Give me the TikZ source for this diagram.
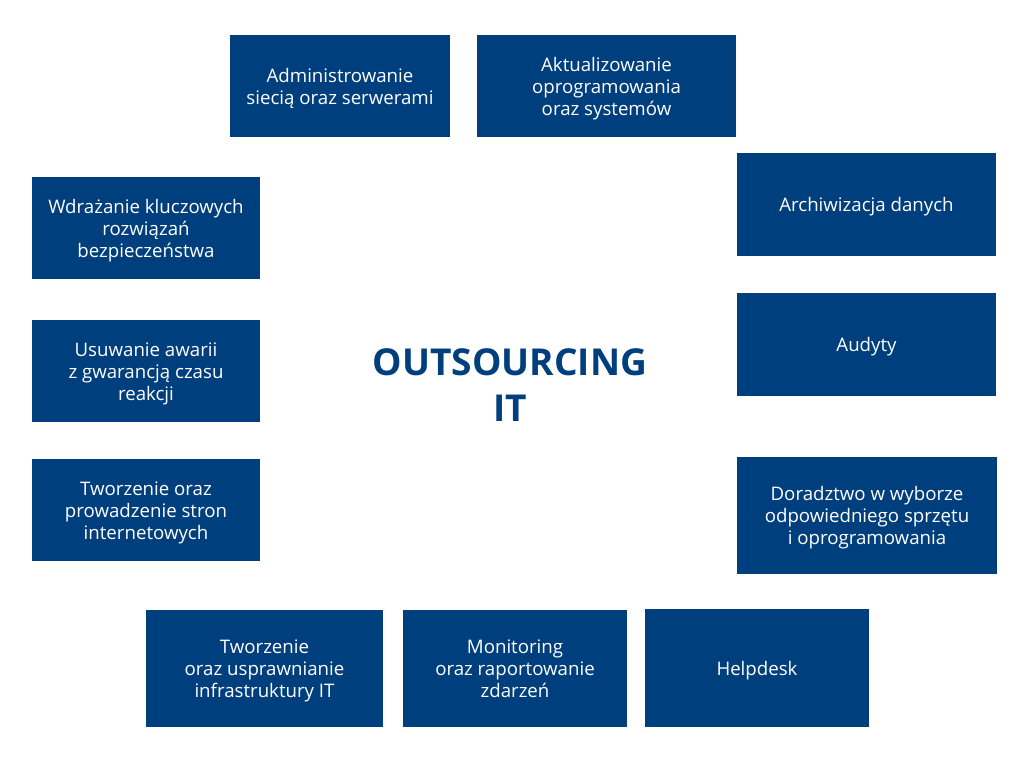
\documentclass[tikz,border=0pt]{standalone}
\usepackage{fontspec}
\setmainfont{Open Sans}
\definecolor{navy}{HTML}{003F7D}
\newcommand{\bxt}[1]{\raisebox{-2.3pt}[\height][\depth]{\begin{tabular}{@{}c@{}}#1\end{tabular}}}
\begin{document}
\begin{tikzpicture}[x=0.75pt,y=-0.75pt,
  box/.style 2 args={fill=navy, text=white, inner sep=0pt,
    minimum width=#1*0.75pt, minimum height=#2*0.75pt,
    font=\fontsize{14pt}{16.5pt}\selectfont},
  title/.style={text=navy, align=center, font=\fontsize{27.8pt}{35pt}\selectfont\bfseries}]
\useasboundingbox[fill=white] (0,0) rectangle (1024,768);
\node[box={220}{102}] (admin) at (340,86) {\bxt{Administrowanie\\siecią oraz serwerami}};
\node[box={259}{102}] (aktual) at (606.5,86) {\bxt{Aktualizowanie\\oprogramowania\\oraz systemów}};
\node[box={259}{103}] (arch) at (866.5,204.5) {\bxt{Archiwizacja danych}};
\node[box={259}{103}] (audyty) at (866.5,344.5) {\bxt{Audyty}};
\node[box={260}{117}] (dorad) at (867,515.5) {\bxt{Doradztwo w wyborze\\odpowiedniego sprzętu\\i oprogramowania}};
\node[box={224}{118}] (help) at (757,668) {\bxt{Helpdesk}};
\node[box={224}{117}] (monit) at (515,668.5) {\bxt{Monitoring\\oraz raportowanie\\zdarzeń}};
\node[box={237}{117}] (infra) at (264.5,668.5) {\bxt{Tworzenie\\oraz usprawnianie\\infrastruktury IT}};
\node[box={228}{102}] (strony) at (146,510) {\bxt{Tworzenie oraz\\prowadzenie stron\\internetowych}};
\node[box={228}{102}] (awarie) at (146,371) {\bxt{Usuwanie awarii\\z gwarancją czasu\\reakcji}};
\node[box={228}{102}] (wdraz) at (146,228) {\bxt{Wdrażanie kluczowych\\rozwiązań\\bezpieczeństwa}};
\node[title] (tytul) at (510,385) {OUTSOURCING\\IT};
\end{tikzpicture}
\end{document}
